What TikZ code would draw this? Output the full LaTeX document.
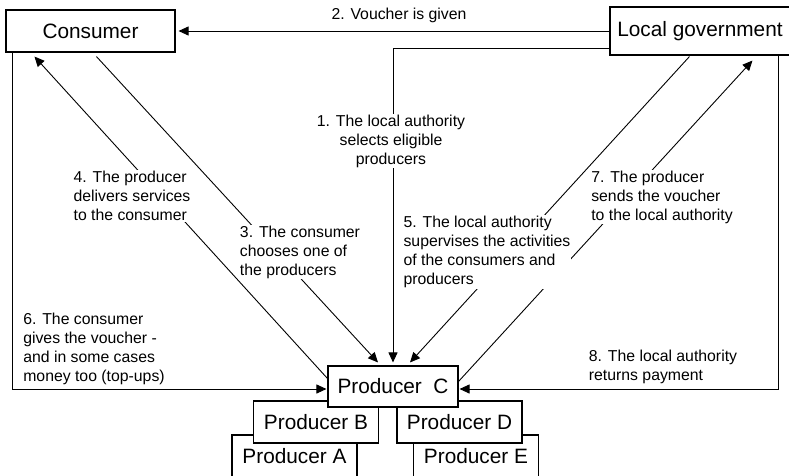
\documentclass[tikz,border=0pt]{standalone}
\usepackage{fontspec}
\setmainfont{Liberation Sans}
\usetikzlibrary{arrows.meta}
\tikzstyle{caja}=[draw,line width=1.1pt,fill=white,inner sep=0pt,minimum width=125pt,minimum height=42pt,font=\fontsize{20.8}{25}\selectfont]
\tikzstyle{rotulo}=[fill=white,inner sep=1pt,align=left,font=\fontsize{15.8}{19}\selectfont]
\tikzstyle{flecha}=[line width=0.9pt,-{Triangle[length=10pt,width=9pt]}]

\begin{document}
\begin{tikzpicture}[x=1pt,y=-1pt]
    \useasboundingbox (0,0) rectangle (789,476);
    \node [caja,minimum width=169pt] (cons) at (90.5,31) {Consumer};
    \node [caja,minimum width=180pt,minimum height=48pt] (lg) at (700,31) {Local government};
    \node [caja] (pa) at (294.5,456) {Producer A};
    \node [caja] (pe) at (476,456) {Producer E};
    \node [caja] (pb) at (316,422) {Producer B};
    \node [caja] (pd) at (459.5,422) {Producer D};
    \node [caja,minimum width=130pt,minimum height=41pt] (pc) at (393,386.5) {Producer\ \ C};
    \draw [flecha,shorten >=3pt] (lg.west) -- (cons.east);
    \draw [flecha,shorten >=3pt] ([yshift=7pt]lg.south west) -| (pc.north);
    \draw [flecha] ([xshift=91pt,yshift=-4pt]cons.south west) -- ([xshift=-15pt,yshift=3pt]pc.north);
    \draw [flecha] ([yshift=-13pt]pc.north west) -- ([xshift=29pt,yshift=-4pt]cons.south west);
    \draw [flecha] ([xshift=80pt,yshift=-1pt]lg.south west) -- ([xshift=17pt,yshift=3pt]pc.north);
    \draw [flecha] ([yshift=-16pt]pc.north east) -- ([xshift=143pt,yshift=-5pt]lg.south west);
    \draw [flecha,shorten >=1pt] ([xshift=7pt]cons.south west) |- ([yshift=-2.5pt]pc.west);
    \draw [flecha,shorten >=1pt] ([xshift=169pt]lg.south west) |- ([yshift=-2.5pt]pc.east);
    \node [rotulo] (t2) at (399,15) {2. Voucher is given};
    \node [rotulo,align=center] (t1) at (391,141) {1. The local authority\\selects eligible\\producers};
    \node [rotulo] (t4) at (132,196) {4. The producer\\delivers services\\to the consumer};
    \node [rotulo] (t3) at (300,252) {3. The consumer\\chooses one of\\the producers};
    \node [rotulo] (t5) at (487,252) {5. The local authority\\supervises the activities\\of the consumers and\\producers};
    \node [rotulo] (t7) at (662,197) {7. The producer\\sends the voucher\\to the local authority};
    \node [rotulo] (t6) at (94,349) {6. The consumer\\gives the voucher -\\and in some cases\\money too (top-ups)};
    \node [rotulo] (t8) at (663,367) {8. The local authority\\returns payment};
\end{tikzpicture}
\end{document}
